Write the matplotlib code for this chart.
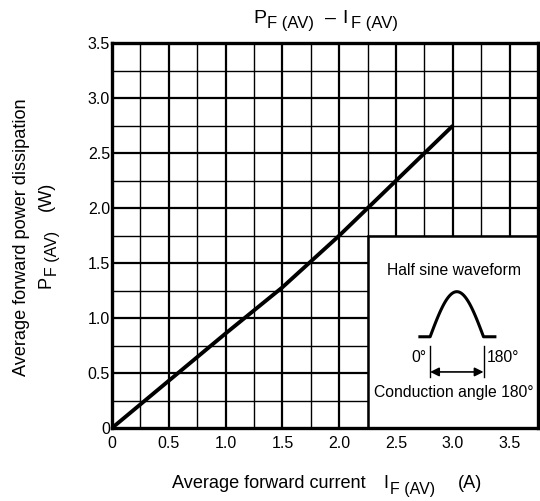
import numpy as np
import matplotlib
matplotlib.use("Agg")
from matplotlib import pyplot as plt
from matplotlib.patches import Rectangle

plt.rcParams['font.family'] = ['Liberation Sans', 'DejaVu Sans']

# Curve
I_F = [0.0, 0.5, 1.0, 1.5, 2.0, 2.5, 3.0]
P_F = [0.0, 0.43, 0.86, 1.28, 1.75, 2.25, 2.75]

X_TICKS = [0, 0.5, 1.0, 1.5, 2.0, 2.5, 3.0, 3.5]
X_LABELS = ["0", "0.5", "1.0", "1.5", "2.0", "2.5", "3.0", "3.5"]
Y_TICKS = [0, 0.5, 1.0, 1.5, 2.0, 2.5, 3.0, 3.5]
Y_LABELS = ["0", "0.5", "1.0", "1.5", "2.0", "2.5", "3.0", "3.5"]

W, H = 540, 501
fig = plt.figure(figsize=(W / 100, H / 100), dpi=100)
ax = fig.add_axes([0.2074, 0.1457, 0.789, 0.768])
ax.set_xlim(0, 3.75)
ax.set_ylim(0, 3.5)


def put(x_px, y_px, s, size, rot=0):
    # place a text piece by its left/baseline point, in pixels from top-left
    fig.text(x_px / W, 1 - y_px / H, s, fontsize=size, ha="left", va="baseline",
             rotation=rot, rotation_mode="anchor")


# grid: minor every 0.25, slightly thicker every 0.5
for v in np.arange(0.25, 3.75, 0.25):
    lw = 1.6 if abs(v / 0.5 - round(v / 0.5)) < 1e-6 else 1.0
    ax.axvline(v, color="black", lw=lw, zorder=1)
for v in np.arange(0.25, 3.5, 0.25):
    lw = 1.6 if abs(v / 0.5 - round(v / 0.5)) < 1e-6 else 1.0
    ax.axhline(v, color="black", lw=lw, zorder=1)

for s in ax.spines.values():
    s.set_linewidth(2.4)
    s.set_zorder(5)

ax.plot(I_F, P_F, color="black", lw=2.8, zorder=3, solid_capstyle="butt")

# inset box with waveform sketch
ax.add_patch(Rectangle((2.25, 0), 1.5, 1.75, facecolor="white", edgecolor="black",
                       lw=1.8, zorder=4))
fs_in = 11.3
ax.text(3.01, 1.43, "Half sine waveform", ha="center", va="center", fontsize=fs_in, zorder=6)
ax.text(3.01, 0.32, "Conduction angle 180°", ha="center", va="center", fontsize=fs_in, zorder=6)
ax.text(2.77, 0.64, "0°", ha="right", va="center", fontsize=fs_in, zorder=6)
ax.text(3.30, 0.64, "180°", ha="left", va="center", fontsize=fs_in, zorder=6)

t = np.linspace(0, np.pi, 60)
wx = 2.80 + (3.27 - 2.80) * t / np.pi
wy = 0.83 + (1.24 - 0.83) * np.sin(t)
ax.plot(np.r_[2.71, wx, 3.37], np.r_[0.83, wy, 0.83], color="black", lw=2.2, zorder=6)
ax.plot([2.80, 2.80], [0.46, 0.75], color="black", lw=1.0, zorder=6)
ax.plot([3.27, 3.27], [0.46, 0.75], color="black", lw=1.0, zorder=6)
ax.annotate("", xy=(2.80, 0.51), xytext=(3.27, 0.51), zorder=6,
            arrowprops=dict(arrowstyle="<|-|>", color="black", lw=1.2,
                            mutation_scale=13, shrinkA=0, shrinkB=0))

ax.set_xticks(X_TICKS)
ax.set_xticklabels(X_LABELS, fontsize=11.5)
ax.set_yticks(Y_TICKS)
ax.set_yticklabels(Y_LABELS, fontsize=11.5)
ax.tick_params(axis="x", length=0, pad=6)
ax.tick_params(axis="y", length=0, pad=1.5)

# title  P_F(AV) - I_F(AV)
put(253, 22.7, "P", 14)
put(267, 28, "F (AV)", 12)
put(325, 22.7, "–", 14)
put(342, 22.7, "I", 14)
put(351, 28, "F (AV)", 12)

# x label
put(171.5, 488.3, "Average forward current", 13.1)
put(383, 488.3, "I", 13.1)
put(390, 494, "F (AV)", 11.5)
put(458, 488.3, "(A)", 13.1)

# y label
fig.text(22 / W, 1 - 236.7 / H, "Average forward power dissipation", rotation=90,
         ha="center", va="center", fontsize=13.1)
put(51, 288, "P", 13.1, rot=90)
put(56.5, 276, "F (AV)", 11.5, rot=90)
put(51, 211, "(W)", 13.1, rot=90)

fig.savefig("out.png", dpi=100)
